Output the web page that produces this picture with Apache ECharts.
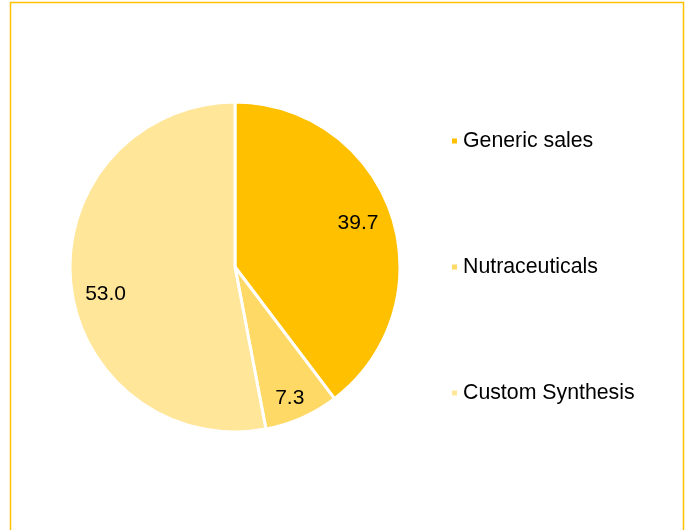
<!DOCTYPE html>
<html>
<head>
<meta charset="utf-8">
<script src="https://cdn.jsdelivr.net/npm/echarts@6/dist/echarts.min.js"></script>
<style>
html,body{margin:0;padding:0;background:#fff;}
#chart{width:689px;height:530px;}
</style>
</head>
<body>
<div id="chart"></div>
<script>
const categories = ['Generic sales', 'Nutraceuticals', 'Custom Synthesis'];
const values = [39.7, 7.3, 53.0];
const colors = ['#FFC000', '#FFD966', '#FFE699'];

const chart = echarts.init(document.getElementById('chart'), null, {renderer: 'canvas'});
const font = "'Liberation Sans', Arial, sans-serif";
// label nudges (style only) to mimic the original label placement
const labelNudge = [[-5, -1], [0, 8], [5, 14]];

chart.setOption({
  animation: false,
  backgroundColor: '#fff',
  graphic: [{
    type: 'rect',
    shape: {x: 10.5, y: 2.5, width: 673, height: 560},
    style: {fill: 'none', stroke: '#FFC000', lineWidth: 1.5},
    silent: true
  }],
  legend: {
    orient: 'vertical',
    left: 445,
    top: 124,
    padding: 5,
    itemWidth: 7,
    itemHeight: 7,
    itemGap: 102,
    itemTextGap: 7,
    icon: 'rect',
    data: categories,
    textStyle: {fontFamily: font, fontSize: 21.3, color: '#000', lineHeight: 24}
  },
  series: [{
    type: 'pie',
    center: [235, 267],
    radius: [0, 165],
    startAngle: 90,
    clockwise: true,
    data: categories.map((n, i) => ({name: n, value: values[i], itemStyle: {color: colors[i]}})),
    label: {show: false},
    labelLine: {show: false},
    itemStyle: {borderColor: '#fff', borderWidth: 3},
    emphasis: {disabled: true}
  }, {
    type: 'pie',
    center: [235, 267],
    radius: [98, 166],
    startAngle: 90,
    clockwise: true,
    silent: true,
    data: categories.map((n, i) => ({
      name: n, value: values[i],
      itemStyle: {color: 'rgba(0,0,0,0)'},
      label: {offset: labelNudge[i]}
    })),
    label: {
      show: true,
      position: 'inside',
      formatter: p => p.value.toFixed(1),
      fontFamily: font,
      fontSize: 21,
      color: '#000'
    },
    labelLine: {show: false},
    itemStyle: {borderWidth: 0},
    emphasis: {disabled: true}
  }]
});
</script>
</body>
</html>
